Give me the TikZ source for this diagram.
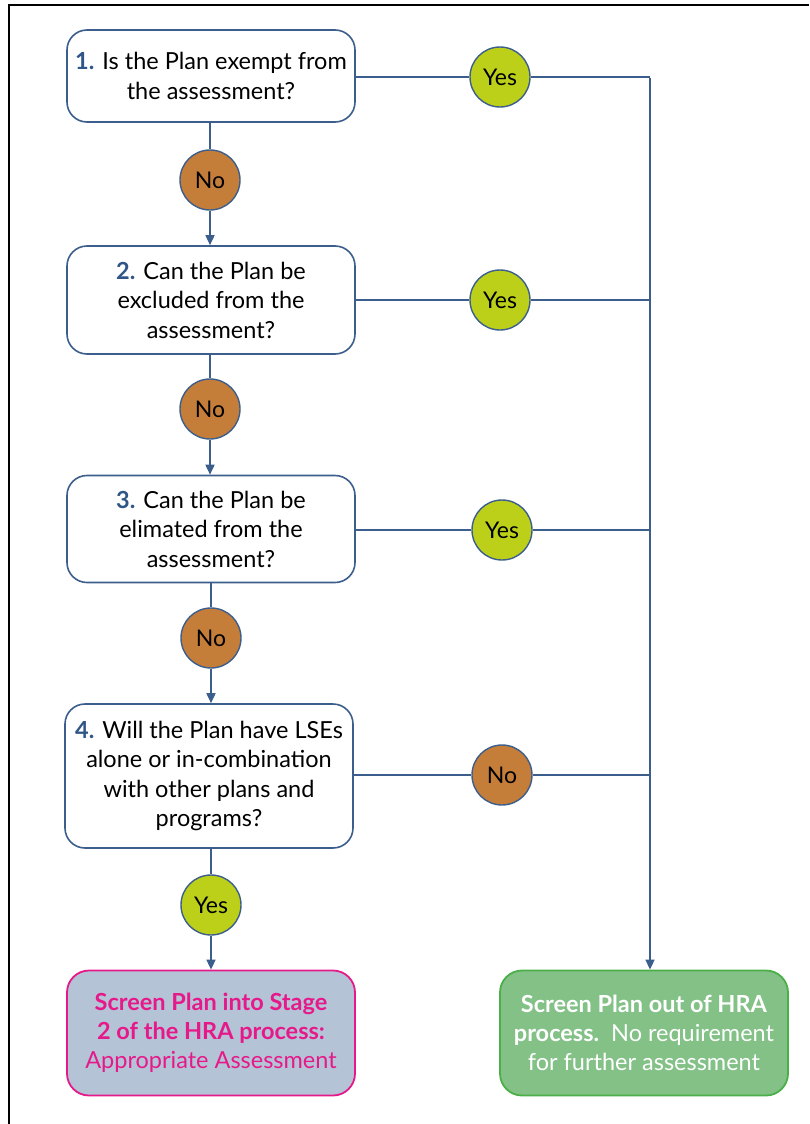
\documentclass[tikz,border=0pt]{standalone}
\usepackage{fontspec}
\setmainfont{Lato}
\usetikzlibrary{arrows.meta}
\definecolor{lineblue}{HTML}{3B5E8C}
\definecolor{numblue}{HTML}{2F5687}
\definecolor{nofill}{HTML}{C57D3A}
\definecolor{yesfill}{HTML}{BCD01A}
\definecolor{pinkline}{HTML}{E6198A}
\definecolor{pinkfill}{HTML}{B4C3D6}
\definecolor{greenfill}{HTML}{83C187}
\definecolor{greenline}{HTML}{4BAF48}
\tikzset{
  qbox/.style={draw=lineblue, line width=1.6pt, fill=white, rounded corners=20pt,
    minimum width=288pt, align=center, inner sep=0pt,
    font=\fontsize{23.5}{29.5}\selectfont},
  yesc/.style={circle, draw=lineblue, line width=1.4pt, fill=yesfill, minimum size=60pt,
    inner sep=0pt, font=\fontsize{23}{26}\selectfont},
  noc/.style={yesc, fill=nofill},
  conn/.style={draw=lineblue, line width=1.6pt},
  arr/.style={conn, -{Triangle[width=9pt,length=10pt]}},
  endbox/.style={rounded corners=22pt, line width=1.8pt, minimum width=288pt,
    minimum height=125pt, align=center, inner sep=0pt,
    font=\fontsize{23.5}{29}\selectfont}
}
\newcommand{\qnum}[1]{{\color{numblue}\bfseries #1}}
\begin{document}
\begin{tikzpicture}[x=1pt,y=-1pt]
\useasboundingbox (0,0) rectangle (809,1124);
\draw[line width=2pt] (809,5) -- (9,5) -- (9,1124);

\node[qbox, minimum height=92pt] (b1) at (211,76) {\qnum{1.} Is the Plan exempt from\\the assessment?};
\node[qbox, minimum height=108pt] (b2) at (211,300) {\qnum{2.} Can the Plan be\\excluded from the\\assessment?};
\node[qbox, minimum height=107pt] (b3) at (211,529) {\qnum{3.} Can the Plan be\\elimated from the\\assessment?};
\node[qbox, minimum height=144pt] (b4) at (209,776) {\qnum{4.} Will the Plan have LSEs\\alone or in-combination\\with other plans and\\programs?};

\node[endbox, draw=pinkline, fill=pinkfill, text=pinkline] (p) at (211,1033)
  {\textbf{Screen Plan into Stage}\\\textbf{2 of the HRA process:}\\Appropriate Assessment};
\node[endbox, draw=greenline, fill=greenfill, text=white] (g) at (644,1033)
  {\textbf{Screen Plan out of HRA}\\\textbf{process.}\ \ No requirement\\for further assessment};

\node[noc] (n1) at (210,180) {No};
\node[noc] (n2) at (210,409) {No};
\node[noc] (n3) at (211,638) {No};
\node[yesc] (y4) at (211,905) {Yes};

\node[yesc] (y1) at (500,77) {Yes};
\node[yesc] (y2) at (500,300) {Yes};
\node[yesc] (y3) at (502,530) {Yes};
\node[noc] (n4) at (502,775) {No};

\coordinate (t) at (650,76);

% vertical chain
\draw[conn] (b1.south -| n1) -- (n1);
\draw[arr] (n1) -- (b2.north -| n1);
\draw[conn] (b2.south -| n2) -- (n2);
\draw[arr] (n2) -- (b3.north -| n2);
\draw[conn] (b3.south -| n3) -- (n3);
\draw[arr] (n3) -- (b4.north -| n3);
\draw[conn] (b4.south -| y4) -- (y4);
\draw[arr] (y4) -- (p.north -| y4);

% right branch
\draw[conn] (b1.east |- y1) -- (y1);
\draw[conn] (y1) -- (y1 -| t);
\draw[conn] (b2.east |- y2) -- (y2);
\draw[conn] (y2) -- (y2 -| t);
\draw[conn] (b3.east |- y3) -- (y3);
\draw[conn] (y3) -- (y3 -| t);
\draw[conn] (b4.east |- n4) -- (n4);
\draw[conn] (n4) -- (n4 -| t);
\draw[arr] ([yshift=-0.8pt]y1 -| t) -- (g.north -| t);
\end{tikzpicture}
\end{document}
